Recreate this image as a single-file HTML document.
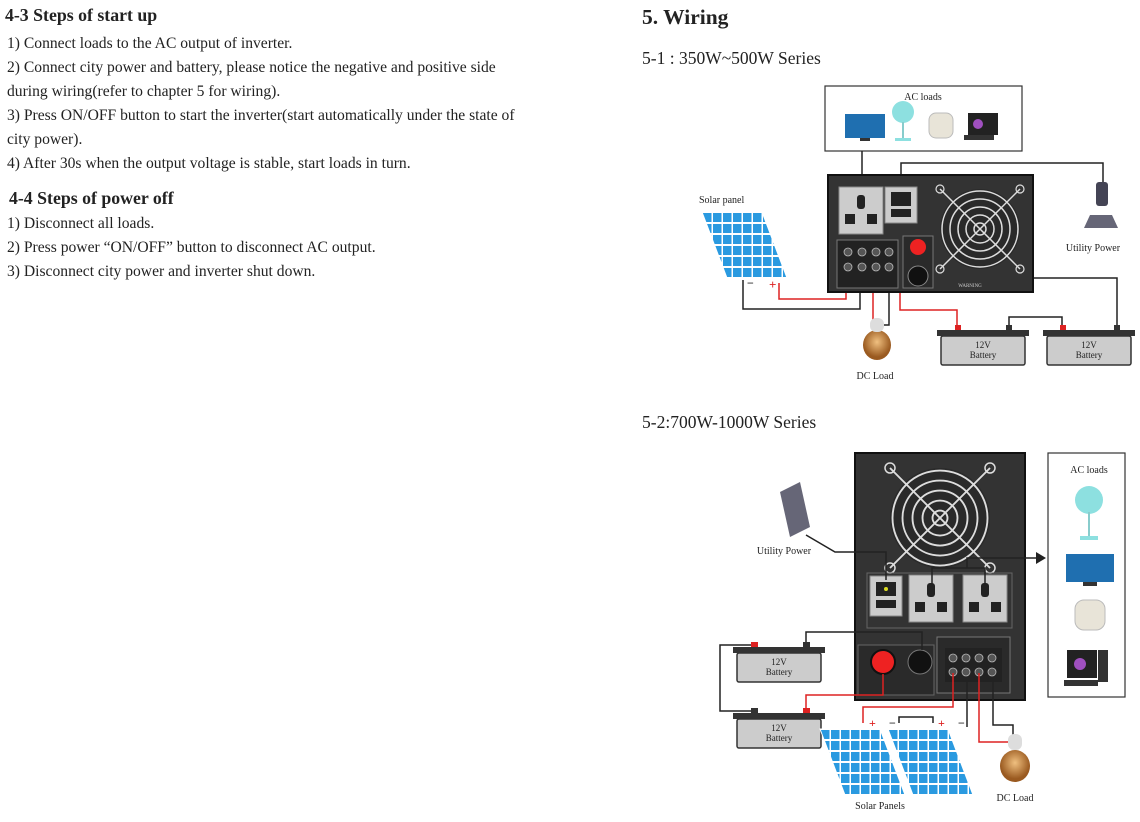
<!DOCTYPE html>
<html><head><meta charset="utf-8"><style>
body{margin:0;background:#fff;width:1140px;height:822px;overflow:hidden;font-family:"Liberation Serif",serif;color:#222}
svg{position:absolute;left:0;top:0}
</style></head><body>
<svg width="1140" height="822" viewBox="0 0 1140 822" font-family="Liberation Serif, serif" fill="#222">
<defs>
<pattern id="cells" width="10" height="11" patternUnits="userSpaceOnUse"><rect width="10" height="11" fill="#fff"/><rect x="1" y="1" width="8.5" height="9" fill="#2a9ae0"/></pattern>
<radialGradient id="bulb" cx="50%" cy="40%"><stop offset="0" stop-color="#f0c080"/><stop offset="1" stop-color="#9a5a20"/></radialGradient>
<g id="fan">
<circle r="40" fill="#2a2a2a"/>
<circle r="38" fill="none" stroke="#ddd" stroke-width="1.5"/>
<circle r="30" fill="none" stroke="#ddd" stroke-width="1.5"/>
<circle r="22" fill="none" stroke="#ddd" stroke-width="1.5"/>
<circle r="14" fill="none" stroke="#ddd" stroke-width="1.5"/>
<circle r="6" fill="none" stroke="#ddd" stroke-width="1.5"/>
<line x1="-40" y1="-40" x2="40" y2="40" stroke="#ddd" stroke-width="1.5"/>
<line x1="40" y1="-40" x2="-40" y2="40" stroke="#ddd" stroke-width="1.5"/>
<g fill="none" stroke="#ddd" stroke-width="1.2"><circle cx="-40" cy="-40" r="4"/><circle cx="40" cy="-40" r="4"/><circle cx="-40" cy="40" r="4"/><circle cx="40" cy="40" r="4"/></g>
</g>
<g id="outlet"><rect width="44" height="47" fill="#ccc" stroke="#888"/><rect x="18" y="8" width="8" height="14" fill="#222" rx="3"/><rect x="6" y="27" width="10" height="10" fill="#222"/><rect x="28" y="27" width="10" height="10" fill="#222"/></g>
<g id="bat"><rect x="0" y="0" width="92" height="6" fill="#333"/><rect x="4" y="6" width="84" height="29" fill="#ccc" stroke="#333" stroke-width="1.5" rx="2"/><text x="46" y="18" font-size="9" text-anchor="middle">12V</text><text x="46" y="28" font-size="9" text-anchor="middle">Battery</text></g>
<g id="panel"><polygon points="0,0 60,0 85,66 25,66" fill="url(#cells)" stroke="#fff"/></g>
</defs>

<!-- left text -->
<text x="5" y="21" font-size="17.8" font-weight="bold">4-3 Steps of start up</text>
<g font-size="15.6">
<text x="7" y="48">1) Connect loads to the AC output of inverter.</text>
<text x="7" y="72">2) Connect city power and battery, please notice the negative and positive side</text>
<text x="7" y="96">during wiring(refer to chapter 5 for wiring).</text>
<text x="7" y="120">3) Press ON/OFF button to start the inverter(start automatically under the state of</text>
<text x="7" y="144">city power).</text>
<text x="7" y="168">4) After 30s when the output voltage is stable, start loads in turn.</text>
</g>
<text x="9" y="204" font-size="17.8" font-weight="bold">4-4 Steps of power off</text>
<g font-size="15.6">
<text x="7" y="228">1) Disconnect all loads.</text>
<text x="7" y="252">2) Press power “ON/OFF” button to disconnect AC output.</text>
<text x="7" y="276">3) Disconnect city power and inverter shut down.</text>
</g>

<text x="642" y="24" font-size="21.5" font-weight="bold">5. Wiring</text>
<text x="642" y="64" font-size="17.5">5-1 : 350W~500W Series</text>
<text x="642" y="428" font-size="17.5">5-2:700W-1000W Series</text>

<!-- ===== Diagram 1 ===== -->
<rect x="825" y="86" width="197" height="65" fill="#fff" stroke="#333" stroke-width="1.2"/>
<text x="923" y="100" font-size="10" text-anchor="middle">AC loads</text>
<rect x="845" y="114" width="40" height="24" fill="#1f6fb0"/><rect x="860" y="138" width="10" height="3" fill="#333"/>
<circle cx="903" cy="112" r="11" fill="#8de0e0"/><rect x="902" y="122" width="2" height="16" fill="#8cc"/><rect x="895" y="138" width="16" height="3" fill="#8de0e0"/>
<rect x="929" y="113" width="24" height="25" rx="7" fill="#e8e4d8" stroke="#bbb"/>
<rect x="968" y="113" width="30" height="22" fill="#222"/><circle cx="978" cy="124" r="5" fill="#a050c0"/><rect x="964" y="135" width="30" height="5" fill="#333"/>

<g stroke="#222" stroke-width="1.5" fill="none">
<polyline points="862,151 862,188"/>
<polyline points="901,188 901,163 1103,163 1103,182"/>
<polyline points="743,280 743,309 860,309 860,290"/>
<polyline points="889,290 889,325 882,325"/>
<polyline points="1009,330 1009,317 1062,317 1062,330"/>
<polyline points="918,278 1117,278 1117,330"/>
</g>
<g stroke="#d22" stroke-width="1.5" fill="none">
<polyline points="779,283 779,299 846,299 846,266"/>
<polyline points="873,266 873,322"/>
<polyline points="900,250 900,310 957,310 957,330"/>
</g>

<rect x="828" y="175" width="205" height="117" fill="#333" stroke="#111" stroke-width="2"/>
<use href="#outlet" x="839" y="187"/>
<rect x="885" y="187" width="32" height="36" fill="#ccc" stroke="#888"/><rect x="891" y="192" width="20" height="14" fill="#222"/><rect x="891" y="209" width="20" height="8" fill="#222"/>
<use href="#fan" x="980" y="229"/>
<rect x="837" y="240" width="61" height="48" fill="#222" stroke="#777"/>
<g fill="#555" stroke="#bbb" stroke-width=".8">
<circle cx="848" cy="252" r="4"/><circle cx="862" cy="252" r="4"/><circle cx="876" cy="252" r="4"/><circle cx="889" cy="252" r="4"/>
<circle cx="848" cy="267" r="4"/><circle cx="862" cy="267" r="4"/><circle cx="876" cy="267" r="4"/><circle cx="889" cy="267" r="4"/>
</g>
<rect x="903" y="236" width="30" height="52" fill="#2a2a2a" stroke="#777"/>
<circle cx="918" cy="247" r="8" fill="#e22"/>
<circle cx="918" cy="276" r="10" fill="#111" stroke="#888"/>
<text x="970" y="287" font-size="5" fill="#ccc" text-anchor="middle">WARNING</text>

<polygon points="1090,215 1112,215 1118,228 1084,228" fill="#667"/>
<rect x="1096" y="182" width="12" height="24" rx="3" fill="#445"/>
<text x="1093" y="251" font-size="10" text-anchor="middle">Utility Power</text>

<use href="#panel" x="702" y="212"/>
<text x="699" y="203" font-size="10">Solar panel</text>
<text x="747" y="287" font-size="12" font-weight="bold">−</text>
<text x="769" y="289" font-size="13" fill="#d22" font-weight="bold">+</text>

<ellipse cx="877" cy="345" rx="14" ry="15" fill="url(#bulb)"/><rect x="870" y="318" width="14" height="14" rx="6" fill="#ddd"/>
<text x="875" y="379" font-size="10" text-anchor="middle">DC  Load</text>

<use href="#bat" x="937" y="330"/>
<use href="#bat" x="1043" y="330"/>
<rect x="955" y="325" width="6" height="5" fill="#d22"/><rect x="1006" y="325" width="6" height="5" fill="#333"/>
<rect x="1060" y="325" width="6" height="5" fill="#d22"/><rect x="1114" y="325" width="6" height="5" fill="#333"/>

<!-- ===== Diagram 2 ===== -->
<rect x="1048" y="453" width="77" height="244" fill="#fff" stroke="#333" stroke-width="1.2"/>
<text x="1089" y="473" font-size="10" text-anchor="middle">AC loads</text>
<circle cx="1089" cy="500" r="14" fill="#8de0e0"/><rect x="1088" y="512" width="2" height="24" fill="#8cc"/><rect x="1080" y="536" width="18" height="4" fill="#8de0e0"/>
<rect x="1066" y="554" width="48" height="28" fill="#1f6fb0"/><rect x="1083" y="582" width="14" height="4" fill="#333"/>
<rect x="1075" y="600" width="30" height="30" rx="9" fill="#e8e4d8" stroke="#bbb"/>
<rect x="1067" y="650" width="30" height="28" fill="#222"/><circle cx="1080" cy="664" r="6" fill="#a050c0"/><rect x="1098" y="650" width="10" height="32" fill="#333"/><rect x="1064" y="680" width="34" height="6" fill="#333"/>

<rect x="855" y="453" width="170" height="247" fill="#333" stroke="#111" stroke-width="2"/>
<g transform="translate(940,518) scale(1.25)"><use href="#fan"/></g>
<rect x="867" y="573" width="145" height="55" fill="none" stroke="#666"/>
<rect x="870" y="576" width="32" height="40" fill="#ccc" stroke="#888"/><rect x="876" y="582" width="20" height="14" fill="#222"/><rect x="876" y="600" width="20" height="8" fill="#222"/><circle cx="886" cy="589" r="2" fill="#dd2"/>
<use href="#outlet" x="909" y="575"/>
<use href="#outlet" x="963" y="575"/>
<rect x="858" y="645" width="76" height="50" fill="#2a2a2a" stroke="#666"/>
<circle cx="883" cy="662" r="12" fill="#e22" stroke="#111" stroke-width="2"/>
<circle cx="920" cy="662" r="12" fill="#111" stroke="#777"/>
<rect x="937" y="637" width="73" height="56" fill="#2a2a2a" stroke="#777"/>
<rect x="945" y="648" width="57" height="34" fill="#222"/>
<g fill="#555" stroke="#bbb" stroke-width=".8">
<circle cx="953" cy="658" r="4"/><circle cx="966" cy="658" r="4"/><circle cx="979" cy="658" r="4"/><circle cx="992" cy="658" r="4"/>
<circle cx="953" cy="672" r="4"/><circle cx="966" cy="672" r="4"/><circle cx="979" cy="672" r="4"/><circle cx="992" cy="672" r="4"/>
</g>

<g stroke="#222" stroke-width="1.5" fill="none">
<polyline points="806,535 835,552 886,552 886,580"/>
<polyline points="932,590 932,568 985,568 985,590"/>
<polyline points="967,568 967,558 1036,558"/>
<polyline points="806,645 806,632 922,632 922,650"/>
<polyline points="753,645 720,645 720,711 753,711"/>
<polyline points="899,723 899,717 933,717 933,723"/>
<polyline points="967,727 967,680"/>
<polyline points="993,680 993,725 1013,725 1013,735"/>
</g>
<polygon points="1036,552 1046,558 1036,564" fill="#222"/>
<g stroke="#d22" stroke-width="1.5" fill="none">
<polyline points="806,711 806,695 883,695 883,674"/>
<polyline points="863,723 863,707 953,707 953,673"/>
<polyline points="979,673 979,742 1008,742"/>
</g>

<polygon points="780,492 800,482 810,527 790,537" fill="#667"/>
<text x="784" y="554" font-size="10" text-anchor="middle">Utility Power</text>

<use href="#bat" x="733" y="647"/>
<use href="#bat" x="733" y="713"/>
<rect x="751" y="642" width="7" height="5" fill="#d22"/><rect x="803" y="642" width="7" height="5" fill="#333"/>
<rect x="751" y="708" width="7" height="5" fill="#333"/><rect x="803" y="708" width="7" height="5" fill="#d22"/>

<use href="#panel" x="820" y="729"/>
<use href="#panel" x="888" y="729"/>
<text x="869" y="727" font-size="12" fill="#d22" font-weight="bold">+</text>
<text x="889" y="727" font-size="12" font-weight="bold">−</text>
<text x="938" y="727" font-size="12" fill="#d22" font-weight="bold">+</text>
<text x="958" y="727" font-size="12" font-weight="bold">−</text>
<text x="880" y="809" font-size="10" text-anchor="middle">Solar Panels</text>

<ellipse cx="1015" cy="766" rx="15" ry="16" fill="url(#bulb)"/><rect x="1008" y="734" width="14" height="16" rx="6" fill="#ddd"/>
<text x="1015" y="801" font-size="10" text-anchor="middle">DC  Load</text>
</svg>
</body></html>
